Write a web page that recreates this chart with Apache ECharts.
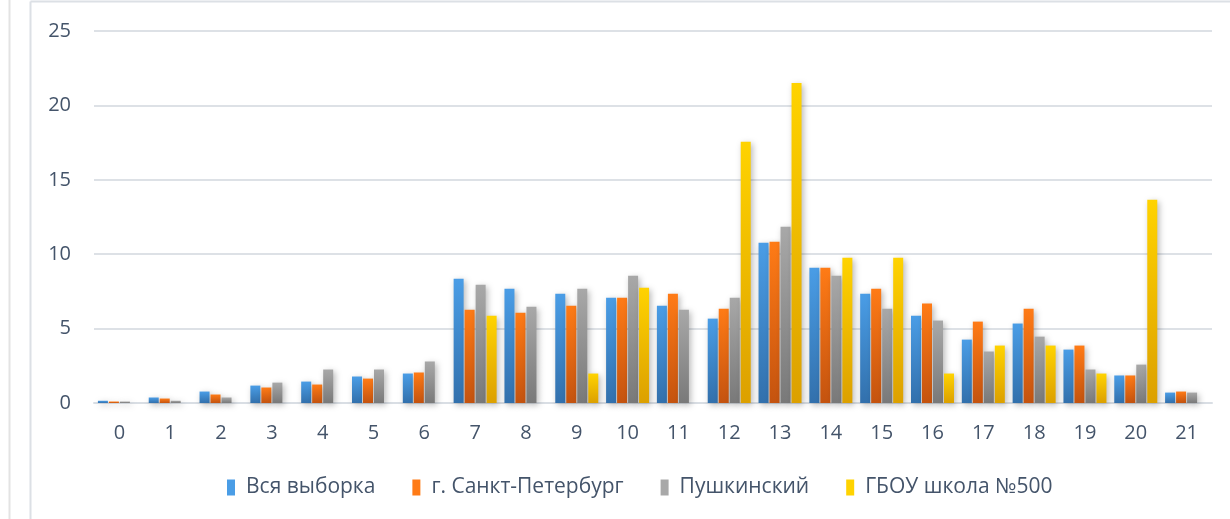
<!DOCTYPE html>
<html>
<head>
<meta charset="utf-8">
<script src="https://cdn.jsdelivr.net/npm/echarts@6/dist/echarts.min.js"></script>
<style>
html,body{margin:0;padding:0;background:#fff;}
#c{width:1230px;height:519px;}
</style>
</head>
<body>
<div id="c"></div>
<script>
var categories = ['0','1','2','3','4','5','6','7','8','9','10','11','12','13','14','15','16','17','18','19','20','21'];
var seriesNames = ['Вся выборка', 'г. Санкт-Петербург', 'Пушкинский', 'ГБОУ школа №500'];
var allSample = [0.15, 0.37, 0.77, 1.17, 1.44, 1.78, 1.98, 8.35, 7.68, 7.35, 7.08, 6.54, 5.67, 10.77, 9.09, 7.35, 5.87, 4.26, 5.34, 3.59, 1.85, 0.7];
var spb       = [0.1, 0.3, 0.57, 1.04, 1.24, 1.64, 2.05, 6.27, 6.07, 6.54, 7.08, 7.35, 6.34, 10.84, 9.09, 7.68, 6.68, 5.47, 6.34, 3.86, 1.85, 0.77];
var pushkin   = [0.1, 0.15, 0.37, 1.37, 2.25, 2.25, 2.79, 7.95, 6.47, 7.68, 8.55, 6.27, 7.08, 11.85, 8.55, 6.34, 5.54, 3.46, 4.46, 2.25, 2.58, 0.7];
var school500 = [null, null, null, null, null, null, null, 5.87, null, 1.98, 7.75, null, 17.55, 21.5, 9.76, 9.76, 1.98, 3.86, 3.86, 1.98, 13.66, null];
var yTicks = { min: 0, max: 25, interval: 5 };

var gradients = [
  ['#4A9DE6', '#3270AC'],
  ['#FF7B16', '#C4530F'],
  ['#A8A8A8', '#797979'],
  ['#FFD300', '#DCA000']
];
var legendColors = ['#4A9DE6', '#FF7B16', '#A8A8A8', '#FFD300'];
var dataSets = [allSample, spb, pushkin, school500];

function grad(c) {
  return new echarts.graphic.LinearGradient(0, 0, 0, 1, [
    { offset: 0, color: c[0] },
    { offset: 1, color: c[1] }
  ]);
}

var series = dataSets.map(function (d, i) {
  return {
    name: seriesNames[i],
    type: 'bar',
    data: d,
    barWidth: 10,
    barGap: '10%',
    itemStyle: {
      color: grad(gradients[i]),
      shadowBlur: 6,
      shadowColor: 'rgba(0,0,0,0.28)',
      shadowOffsetX: 2,
      shadowOffsetY: 2
    }
  };
});

var chart = echarts.init(document.getElementById('c'), null, { renderer: 'canvas' });
chart.setOption({
  animation: false,
  backgroundColor: '#ffffff',
  color: legendColors,
  graphic: [
    { type: 'line', shape: { x1: 9.5, y1: 0, x2: 9.5, y2: 519 }, style: { stroke: '#E3E3E3', lineWidth: 2 } },
    { type: 'line', shape: { x1: 30.5, y1: 1.5, x2: 1230, y2: 1.5 }, style: { stroke: '#DCE0E5', lineWidth: 2 } },
    { type: 'line', shape: { x1: 30.5, y1: 1.5, x2: 30.5, y2: 519 }, style: { stroke: '#DCE0E5', lineWidth: 2 } }
  ],
  grid: { left: 94, right: 18, top: 31, bottom: 116, containLabel: false },
  legend: {
    data: seriesNames.map(function (n, i) { return { name: n, itemStyle: { color: legendColors[i] } }; }),
    bottom: 16,
    left: 222,
    icon: 'rect',
    itemWidth: 8,
    itemHeight: 16,
    itemGap: 37,
    textStyle: { fontFamily: 'Open Sans', fontSize: 21, color: '#44546A', padding: [0, 0, 0, 6] }
  },
  xAxis: {
    type: 'category',
    data: categories,
    axisLine: { show: true, lineStyle: { color: '#D9DEE4', width: 2 } },
    axisTick: { show: false },
    axisLabel: { fontFamily: 'Open Sans', fontSize: 20, color: '#44546A', margin: 20 }
  },
  yAxis: {
    type: 'value',
    min: yTicks.min,
    max: yTicks.max,
    interval: yTicks.interval,
    axisLine: { show: false },
    axisTick: { show: false },
    splitLine: { lineStyle: { color: '#DDE1E6', width: 2 } },
    axisLabel: { fontFamily: 'Open Sans', fontSize: 20, color: '#44546A', margin: 23 }
  },
  series: series
});
</script>
</body>
</html>
